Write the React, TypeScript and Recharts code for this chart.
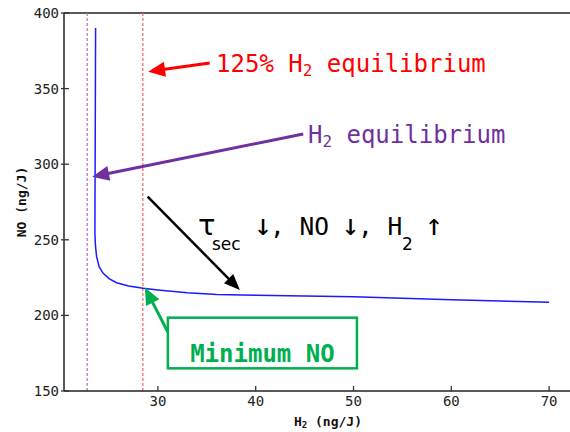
import React from 'react'
import { LineChart, Line, XAxis, YAxis, ReferenceLine } from 'recharts'

// H2 (ng/J) vs NO (ng/J)
const h2 = [23.63, 23.6, 23.57, 23.56, 23.62, 23.73, 24.0, 24.41, 25.0, 25.78, 27.0, 28.5, 30, 33, 36, 40, 45, 50, 55, 60, 65, 70]
const no = [390, 330, 280, 254, 246, 239, 232, 227.8, 224.3, 221.6, 219.5, 217.9, 216.8, 215.0, 213.9, 213.3, 212.8, 212.4, 211.4, 210.4, 209.5, 208.7]

const xTicks = [30, 40, 50, 60, 70]
const yTicks = [150, 200, 250, 300, 350, 400]

const h2Equilibrium = 22.77
const h2Equilibrium125 = 28.46

const data = h2.map((x, i) => ({ h2: x, no: no[i] }))

const X_DOMAIN: [number, number] = [20.4, 72.4]
const Y_DOMAIN: [number, number] = [150, 400]
const PLOT = { left: 64, top: 13, bottom: 391, right: 572.6 }

const MONO = '"DejaVu Sans Mono", monospace'
const SANS = '"DejaVu Sans", sans-serif'

// map data coords to pixels for the annotation overlay
const px = (x: number) => PLOT.left + ((x - X_DOMAIN[0]) / (X_DOMAIN[1] - X_DOMAIN[0])) * (PLOT.right - PLOT.left)
const py = (y: number) => PLOT.bottom - ((y - Y_DOMAIN[0]) / (Y_DOMAIN[1] - Y_DOMAIN[0])) * (PLOT.bottom - PLOT.top)

function Arrow({ from, to, color, width = 3, head = 17, headW = 15 }: any) {
  const x1 = px(from[0]), y1 = py(from[1]), x2 = px(to[0]), y2 = py(to[1])
  const dx = x2 - x1, dy = y2 - y1
  const len = Math.sqrt(dx * dx + dy * dy)
  const ux = dx / len, uy = dy / len
  const bx = x2 - ux * head, by = y2 - uy * head
  const nx = -uy * headW / 2, ny = ux * headW / 2
  return (
    <g>
      <line x1={x1} y1={y1} x2={bx + ux * 2} y2={by + uy * 2} stroke={color} strokeWidth={width} />
      <polygon points={`${x2},${y2} ${bx + nx},${by + ny} ${bx - nx},${by - ny}`} fill={color} />
    </g>
  )
}

const YTick = ({ x, y, payload }: any) => (
  <g>
    <line x1={x - 3} x2={x + 5} y1={y} y2={y} stroke="#333" strokeWidth={1.3} />
    <text x={x - 5} y={y + 5} textAnchor="end" fontFamily={MONO} fontSize={14} fill="#222">{payload.value}</text>
  </g>
)

const XTick = ({ x, y, payload }: any) => (
  <g>
    <line x1={x} x2={x} y1={y - 5} y2={y} stroke="#333" strokeWidth={1.3} />
    <text x={x} y={y + 15} textAnchor="middle" fontFamily={MONO} fontSize={14} fill="#222">{payload.value}</text>
  </g>
)

function Annotations() {
  const red = '#ff0000'
  const purple = '#7030a0'
  const green = '#00b050'
  const tx = px(34.09)
  const ty = py(253.2)
  return (
    <svg width={570} height={432} style={{ position: 'absolute', left: 0, top: 0, pointerEvents: 'none' }}>
      <Arrow from={[35.3, 367]} to={[29.0, 361.2]} color={red} />
      <text x={px(35.95)} y={py(361.3)} fontFamily={MONO} fontSize={24} fill={red}>
        125% H<tspan fontSize={16} dy={4}>2</tspan><tspan dy={-4}> equilibrium</tspan>
      </text>

      <Arrow from={[44.86, 320]} to={[23.28, 291.7]} color={purple} />
      <text x={px(45.34)} y={py(314)} fontFamily={MONO} fontSize={24} fill={purple}>
        H<tspan fontSize={16} dy={4}>2</tspan><tspan dy={-4}> equilibrium</tspan>
      </text>

      <Arrow from={[28.95, 278.5]} to={[38.38, 216.8]} color="#000" width={2.5} head={16} headW={13} />
      <g fill="#000">
        <text x={tx} y={ty} fontFamily={SANS} fontSize={29}>τ</text>
        <text x={tx + 14} y={ty + 15} fontFamily={SANS} fontSize={17}>sec</text>
        <text x={tx + 56} y={ty} fontFamily={MONO} fontSize={30}>↓</text>
        <text x={tx + 72} y={ty} fontFamily={MONO} fontSize={24.5}>, NO</text>
        <text x={tx + 143.5} y={ty} fontFamily={MONO} fontSize={30}>↓</text>
        <text x={tx + 160} y={ty} fontFamily={MONO} fontSize={24.5}>, H</text>
        <text x={tx + 204} y={ty + 15} fontFamily={SANS} fontSize={17}>2</text>
        <text x={tx + 227} y={ty} fontFamily={MONO} fontSize={30}>↑</text>
      </g>

      <Arrow from={[31.02, 189]} to={[28.67, 218.4]} color={green} />
      <rect x={px(31.02)} y={py(198.5)} width={px(50.35) - px(31.02)} height={py(165) - py(198.5)}
        fill="#fff" stroke={green} strokeWidth={2.5} />
      <text x={(px(31.02) + px(50.35)) / 2} y={py(169)} textAnchor="middle" fontFamily={MONO}
        fontWeight="bold" fontSize={24} fill={green}>Minimum NO</text>

      <text transform="translate(26,202) rotate(-90)" textAnchor="middle" fontFamily={MONO}
        fontWeight="bold" fontSize={13} fill="#111">NO (ng/J)</text>
      <text x={328} y={426} textAnchor="middle" fontFamily={MONO} fontWeight="bold" fontSize={13} fill="#111">
        H<tspan fontSize={9} dy={2}>2</tspan><tspan dy={-2}> (ng/J)</tspan>
      </text>
    </svg>
  )
}

export default function App() {
  return (
    <div style={{ position: 'fixed', left: 0, top: 0, width: 570, height: 432, overflow: 'hidden', background: '#fff' }}>
      <LineChart width={580} height={432} data={data} margin={{ top: PLOT.top, right: 580 - PLOT.right, bottom: 0, left: 4 }}>
        <XAxis
          dataKey="h2"
          type="number"
          domain={X_DOMAIN}
          ticks={xTicks}
          allowDataOverflow
          height={432 - PLOT.bottom}
          tickSize={0}
          tickMargin={0}
          tickLine={false}
          tick={<XTick />}
          axisLine={{ stroke: '#222', strokeWidth: 1.5 }}
        />
        <YAxis
          type="number"
          domain={Y_DOMAIN}
          ticks={yTicks}
          allowDataOverflow
          width={60}
          tickSize={0}
          tickMargin={0}
          tickLine={false}
          tick={<YTick />}
          axisLine={{ stroke: '#222', strokeWidth: 1.5 }}
        />
        <ReferenceLine y={400} stroke="#222" strokeWidth={1.5} />
        <ReferenceLine x={h2Equilibrium} stroke="#b070c0" strokeWidth={1.2} strokeDasharray="3 2" />
        <ReferenceLine x={h2Equilibrium125} stroke="#ff6a6a" strokeWidth={1.3} strokeDasharray="3 2" />
        <Line
          dataKey="no"
          type="linear"
          stroke="#1a1aff"
          strokeWidth={1.5}
          dot={false}
          isAnimationActive={false}
        />
      </LineChart>
      <Annotations />
    </div>
  )
}
